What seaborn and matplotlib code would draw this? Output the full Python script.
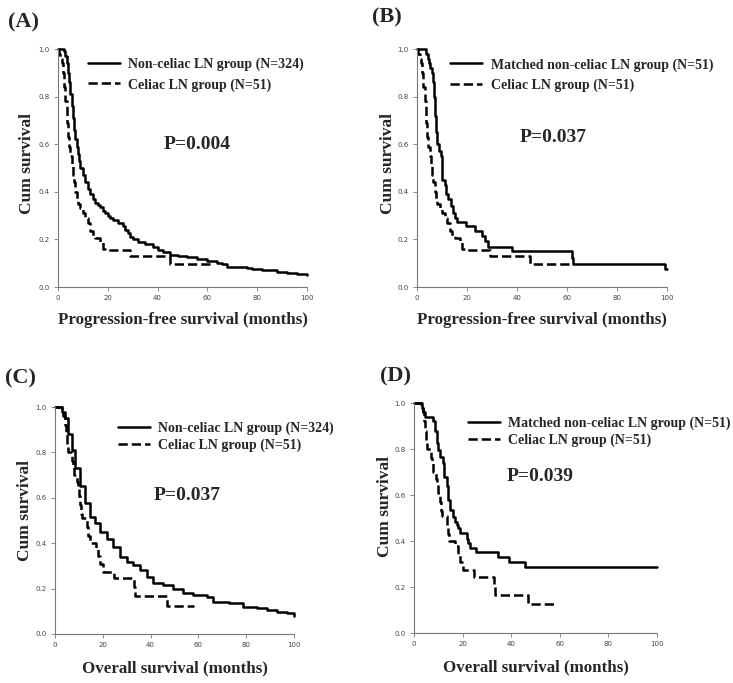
import matplotlib
matplotlib.use("Agg")
import matplotlib.pyplot as plt
import seaborn as sns
import pandas as pd

# Kaplan-Meier step points (months, cumulative survival)
noncel_pfs_t = [0, 2.5, 3, 3.5, 4, 4.5, 5, 5.5, 6, 6.5, 7, 7.5, 8, 8.5, 9, 10, 11, 12, 13, 14,
                15, 16, 17, 18, 19, 20, 21, 22, 24, 26, 27, 28, 29, 30, 32, 35, 38, 40, 42, 45,
                48, 52, 56, 60, 64, 66, 68, 72, 76, 78, 82, 88, 92, 96, 100]
noncel_pfs_s = [1.0, 0.99, 0.97, 0.94, 0.90, 0.86, 0.81, 0.76, 0.71, 0.66, 0.62, 0.59, 0.56, 0.53, 0.50, 0.47, 0.44, 0.41, 0.39, 0.37,
                0.355, 0.345, 0.335, 0.32, 0.31, 0.30, 0.29, 0.28, 0.27, 0.255, 0.24, 0.225, 0.21, 0.20, 0.19, 0.18, 0.17, 0.155, 0.145, 0.135,
                0.13, 0.125, 0.118, 0.11, 0.10, 0.095, 0.085, 0.082, 0.08, 0.075, 0.07, 0.065, 0.06, 0.055, 0.05]

matched_pfs_t = [0, 3.5, 4.2, 4.8, 5.3, 5.8, 6.3, 6.8, 7.2, 7.6, 8, 8.8, 9.5, 10, 11, 11.5, 12.5, 13.5,
                 14.2, 15, 16, 19.5, 23, 26, 27, 28.3, 38, 62, 62.5, 99, 100]
matched_pfs_s = [1.0, 0.98, 0.96, 0.94, 0.92, 0.90, 0.86, 0.80, 0.72, 0.65, 0.60, 0.57, 0.55, 0.45, 0.43, 0.39, 0.37, 0.34,
                 0.31, 0.29, 0.275, 0.255, 0.235, 0.215, 0.195, 0.17, 0.15, 0.12, 0.098, 0.075, 0.075]

celiac_pfs_t = [0, 0.5, 1, 1.5, 2, 2.5, 3, 3.5, 4, 4.5, 5, 5.5, 6, 6.5, 7, 7.5, 8, 9, 10, 11,
                12, 13, 14, 15, 17, 18, 19, 29, 45, 62]
celiac_pfs_s = [1.0, 0.98, 0.96, 0.94, 0.90, 0.84, 0.78, 0.69, 0.63, 0.59, 0.55, 0.51, 0.47, 0.44, 0.40, 0.37, 0.35, 0.33, 0.31, 0.29,
                0.27, 0.235, 0.215, 0.205, 0.19, 0.16, 0.155, 0.13, 0.098, 0.098]

noncel_os_t = [0, 3, 4.2, 5.6, 7, 8.4, 10.5, 12.6, 14.6, 16.7, 18.8, 21.6, 24.4, 27.2, 30, 32.8, 35.6, 38.4,
               41, 45.3, 49.5, 53.7, 57.9, 63.5, 66, 73, 78.8, 84.4, 88.6, 92.7, 97, 100]
noncel_os_s = [1.0, 0.98, 0.95, 0.88, 0.81, 0.73, 0.65, 0.575, 0.516, 0.487, 0.45, 0.42, 0.384, 0.34, 0.318, 0.303, 0.28, 0.25,
               0.226, 0.215, 0.20, 0.179, 0.171, 0.164, 0.142, 0.135, 0.12, 0.116, 0.106, 0.098, 0.091, 0.08]

matched_os_t = [0, 3.2, 3.8, 4.5, 8, 8.7, 9.3, 10, 10.7, 11.8, 12.5, 13.5, 14.1, 14.8, 15.9, 16.9, 17.9, 18.3,
                19, 21.7, 22.3, 23, 25.5, 34.7, 38.9, 45.7, 100]
matched_os_s = [1.0, 0.98, 0.96, 0.94, 0.92, 0.88, 0.826, 0.797, 0.767, 0.738, 0.68, 0.637, 0.58, 0.535, 0.506, 0.484, 0.47, 0.455,
                0.433, 0.41, 0.39, 0.37, 0.353, 0.33, 0.31, 0.288, 0.288]

celiac_os_t = [0, 3, 3.5, 4, 4.5, 5, 5.5, 7, 7.5, 8, 9, 9.5, 10, 10.5, 11, 11.5, 13.5, 14, 14.5, 17,
               18, 19, 20, 24.5, 33, 33.5, 47, 58]
celiac_os_s = [1.0, 0.98, 0.96, 0.92, 0.88, 0.82, 0.80, 0.76, 0.74, 0.70, 0.67, 0.65, 0.61, 0.57, 0.53, 0.51, 0.47, 0.43, 0.40, 0.38,
               0.345, 0.31, 0.275, 0.245, 0.205, 0.167, 0.125, 0.125]

panel_tags = ["(A)", "(B)", "(C)", "(D)"]
p_values = ["P=0.004", "P=0.037", "P=0.037", "P=0.039"]
solid_labels = ["Non-celiac LN group (N=324)", "Matched non-celiac LN group (N=51)",
                "Non-celiac LN group (N=324)", "Matched non-celiac LN group (N=51)"]
dashed_label = "Celiac LN group (N=51)"
x_titles = ["Progression-free survival (months)", "Progression-free survival (months)",
            "Overall survival (months)", "Overall survival (months)"]

sns.set_style("white")
serif = "Liberation Serif"

W, H = 733, 683
fig = plt.figure(figsize=(W / 100, H / 100), dpi=100)

# pixel boxes of each plot area: (x0, x100, y1.0, y0)
boxes = [(58, 307, 49, 287), (417, 667, 49, 287), (55, 294, 407, 634), (414, 657, 403, 633)]
tag_pos = [(8, 22), (372, 17), (5, 378), (380, 376)]
leg_anchor = [(0.12, 0.965), (0.133, 0.962), (0.264, 0.935), (0.221, 0.94)]
leg_spacing = [0.52, 0.52, 0.25, 0.25]
p_pos = [(0.558, 0.60), (0.545, 0.63), (0.552, 0.61), (0.519, 0.68)]
ylab_pos = [(-0.125, 0.52), (-0.115, 0.52), (-0.126, 0.545), (-0.12, 0.55)]
xlab_y = [-0.139, -0.139, -0.15, -0.148]

curves = [
    (noncel_pfs_t, noncel_pfs_s, celiac_pfs_t, celiac_pfs_s),
    (matched_pfs_t, matched_pfs_s, celiac_pfs_t, celiac_pfs_s),
    (noncel_os_t, noncel_os_s, celiac_os_t, celiac_os_s),
    (matched_os_t, matched_os_s, celiac_os_t, celiac_os_s),
]

for i, (st, ss, dt, ds) in enumerate(curves):
    x0, x1, y1, y0 = boxes[i]
    ax = fig.add_axes([x0 / W, 1 - y0 / H, (x1 - x0) / W, (y0 - y1) / H])
    solid = pd.DataFrame({"t": st, "s": ss})
    dashed = pd.DataFrame({"t": dt, "s": ds})
    sns.lineplot(data=solid, x="t", y="s", ax=ax, estimator=None, sort=False,
                 drawstyle="steps-post", color="black", lw=1.8, label=solid_labels[i], clip_on=False)
    sns.lineplot(data=dashed, x="t", y="s", ax=ax, estimator=None, sort=False,
                 drawstyle="steps-post", color="black", lw=1.8, ls="--", label=dashed_label, clip_on=False)

    ax.set_xlim(0, 100)
    ax.set_ylim(0, 1.0)
    ax.set_xticks([0, 20, 40, 60, 80, 100])
    ax.set_yticks([0.0, 0.2, 0.4, 0.6, 0.8, 1.0])
    ax.set_yticklabels(["0.0", "0.2", "0.4", "0.6", "0.8", "1.0"])
    sns.despine(ax=ax)
    for sp in ["left", "bottom"]:
        ax.spines[sp].set_color("#777777")
        ax.spines[sp].set_linewidth(0.8)
    ax.tick_params(axis="both", length=3, width=0.6, color="#777777", labelsize=5,
                   labelcolor="#444444", pad=3, direction="out", bottom=True, left=True)

    ax.set_xlabel(x_titles[i], fontfamily=serif, fontweight="bold", fontsize=12.2)
    ax.xaxis.set_label_coords(0.5, xlab_y[i])
    ax.xaxis.label.set_va("center")
    ax.set_ylabel("Cum survival", fontfamily=serif, fontweight="bold", fontsize=12.5)
    ax.yaxis.set_label_coords(*ylab_pos[i])
    ax.yaxis.label.set_va("center")

    ax.legend(loc="upper left", bbox_to_anchor=leg_anchor[i], frameon=False, borderpad=0,
              borderaxespad=0, handlelength=2.3, handletextpad=0.6, labelspacing=leg_spacing[i],
              prop={"family": serif, "weight": "bold", "size": 10})
    ax.text(p_pos[i][0], p_pos[i][1], p_values[i], transform=ax.transAxes, ha="center", va="center",
            fontfamily=serif, fontweight="bold", fontsize=14)

    fig.text(tag_pos[i][0] / W, 1 - tag_pos[i][1] / H, panel_tags[i], ha="left", va="center",
             fontfamily=serif, fontweight="bold", fontsize=16)

fig.savefig("out.png", dpi=100)
